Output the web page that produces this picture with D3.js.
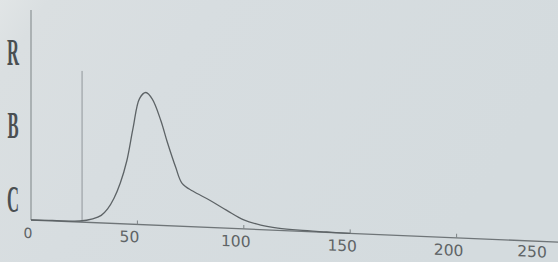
<!DOCTYPE html>
<html>
<head>
<meta charset="utf-8">
<script src="https://cdn.jsdelivr.net/npm/d3@7/dist/d3.min.js"></script>
<style>
    html, body { margin: 0; padding: 0; background: #d6dcdf; }
    svg { display: block; }
</style>
</head>
<body>
<svg id="chart" width="558" height="262"></svg>
<script>
/* Histogram values (size vs relative count) */
var sizeValues  = [0, 10, 23, 29, 33, 36, 39, 42, 45, 48, 51, 54, 57, 61, 64, 68, 71, 76, 84, 92, 100, 108, 116, 126, 139, 150];
var countValues = [0, 0.2, 0.5, 1.8, 3.6, 6.8, 12, 19.5, 30, 46, 60, 63, 60, 50, 40, 28, 20.5, 17, 13, 8.5, 4.3, 2.2, 1.1, 0.5, 0.2, 0];

var tickValues = [0, 50, 100, 150, 200, 250];
var sideLabels = ["R", "B", "C"];
var sideLabelLevels = [79.5, 44.8, 9.5];

/* Threshold marker */
var markerSize = [24];
var markerHeight = [72];

var width = 558, height = 262;
var originX = 31, baseY = 220;

var main = function () {

    var svg = d3.select("#chart");

    /* Paper background with a little lighting variation like the photo */
    var defs = svg.append("defs");
    var grad = defs.append("linearGradient")
        .attr("id", "paper")
        .attr("x1", "0").attr("y1", "0").attr("x2", "1").attr("y2", "0.3");
    grad.append("stop").attr("offset", "0").attr("stop-color", "#e1e5e6");
    grad.append("stop").attr("offset", "0.08").attr("stop-color", "#dadfe1");
    grad.append("stop").attr("offset", "0.35").attr("stop-color", "#d7dde0");
    grad.append("stop").attr("offset", "1").attr("stop-color", "#d4dbde");

    svg.append("rect")
        .attr("width", width).attr("height", height)
        .attr("fill", "url(#paper)");

    var x = d3.scaleLinear().domain([0, 250]).range([originX, originX + 250 * 2.128]);
    var y = d3.scaleLinear().domain([0, 100]).range([baseY, baseY - 210]);

    /* The printout is photographed slightly sheared: baseline drops to the right */
    var g = svg.append("g")
        .attr("transform", "translate(" + originX + ",0) skewY(2.4) translate(" + (-originX) + ",0)");

    /* Y axis line */
    g.append("line")
        .attr("x1", x(0)).attr("x2", x(0))
        .attr("y1", y(100)).attr("y2", y(0))
        .attr("stroke", "#7d8386").attr("stroke-width", 1);

    /* X axis line */
    g.append("line")
        .attr("x1", x(0)).attr("x2", width + 20)
        .attr("y1", y(0)).attr("y2", y(0))
        .attr("stroke", "#6f7578").attr("stroke-width", 1.3);

    /* Tick marks */
    g.selectAll(".tick")
        .data(tickValues.slice(1))
        .enter().append("line")
        .attr("class", "tick")
        .attr("x1", function (d) { return x(d); })
        .attr("x2", function (d) { return x(d); })
        .attr("y1", y(0)).attr("y2", y(0) - 4)
        .attr("stroke", "#7d8386").attr("stroke-width", 1);

    /* Tick labels, nudged left and kept inside the page */
    g.selectAll(".tickLabel")
        .data(tickValues)
        .enter().append("text")
        .attr("class", "tickLabel")
        .attr("x", function (d) { return Math.max(28, Math.min(x(d) - 8, width - 26)); })
        .attr("y", function (d) { return y(0) + (d === 250 ? 16 : 18); })
        .attr("text-anchor", "middle")
        .attr("font-family", "DejaVu Sans")
        .attr("font-size", function (d) { return d === 0 ? 14 : 15.5; })
        .attr("fill", "#5f6466")
        .text(function (d) { return d; });

    /* Threshold marker */
    g.selectAll(".marker")
        .data(markerSize)
        .enter().append("line")
        .attr("class", "marker")
        .attr("x1", function (d) { return x(d); })
        .attr("x2", function (d) { return x(d); })
        .attr("y1", function (d, i) { return y(markerHeight[i]); })
        .attr("y2", y(0))
        .attr("stroke", "#8a9093").attr("stroke-width", 0.9);

    /* Histogram curve */
    var points = sizeValues.map(function (d, i) { return [d, countValues[i]]; });
    var line = d3.line()
        .x(function (d) { return x(d[0]); })
        .y(function (d) { return y(d[1]); })
        .curve(d3.curveCatmullRom.alpha(0.5));

    g.append("path")
        .datum(points)
        .attr("d", line)
        .attr("fill", "none")
        .attr("stroke", "#5d6366")
        .attr("stroke-width", 1.3);

    /* R / B / C side labels in a tall condensed serif */
    svg.selectAll(".sideLabel")
        .data(sideLabels)
        .enter().append("text")
        .attr("class", "sideLabel")
        .attr("transform", function (d, i) {
            return "translate(13," + (y(sideLabelLevels[i]) + 12) + ") scale(0.45,1)";
        })
        .attr("text-anchor", "middle")
        .attr("font-family", "Liberation Serif")
        .attr("font-weight", "bold")
        .attr("font-size", 37)
        .attr("fill", "#4a4f52")
        .text(function (d) { return d; });
}

main();
</script>
</body>
</html>
